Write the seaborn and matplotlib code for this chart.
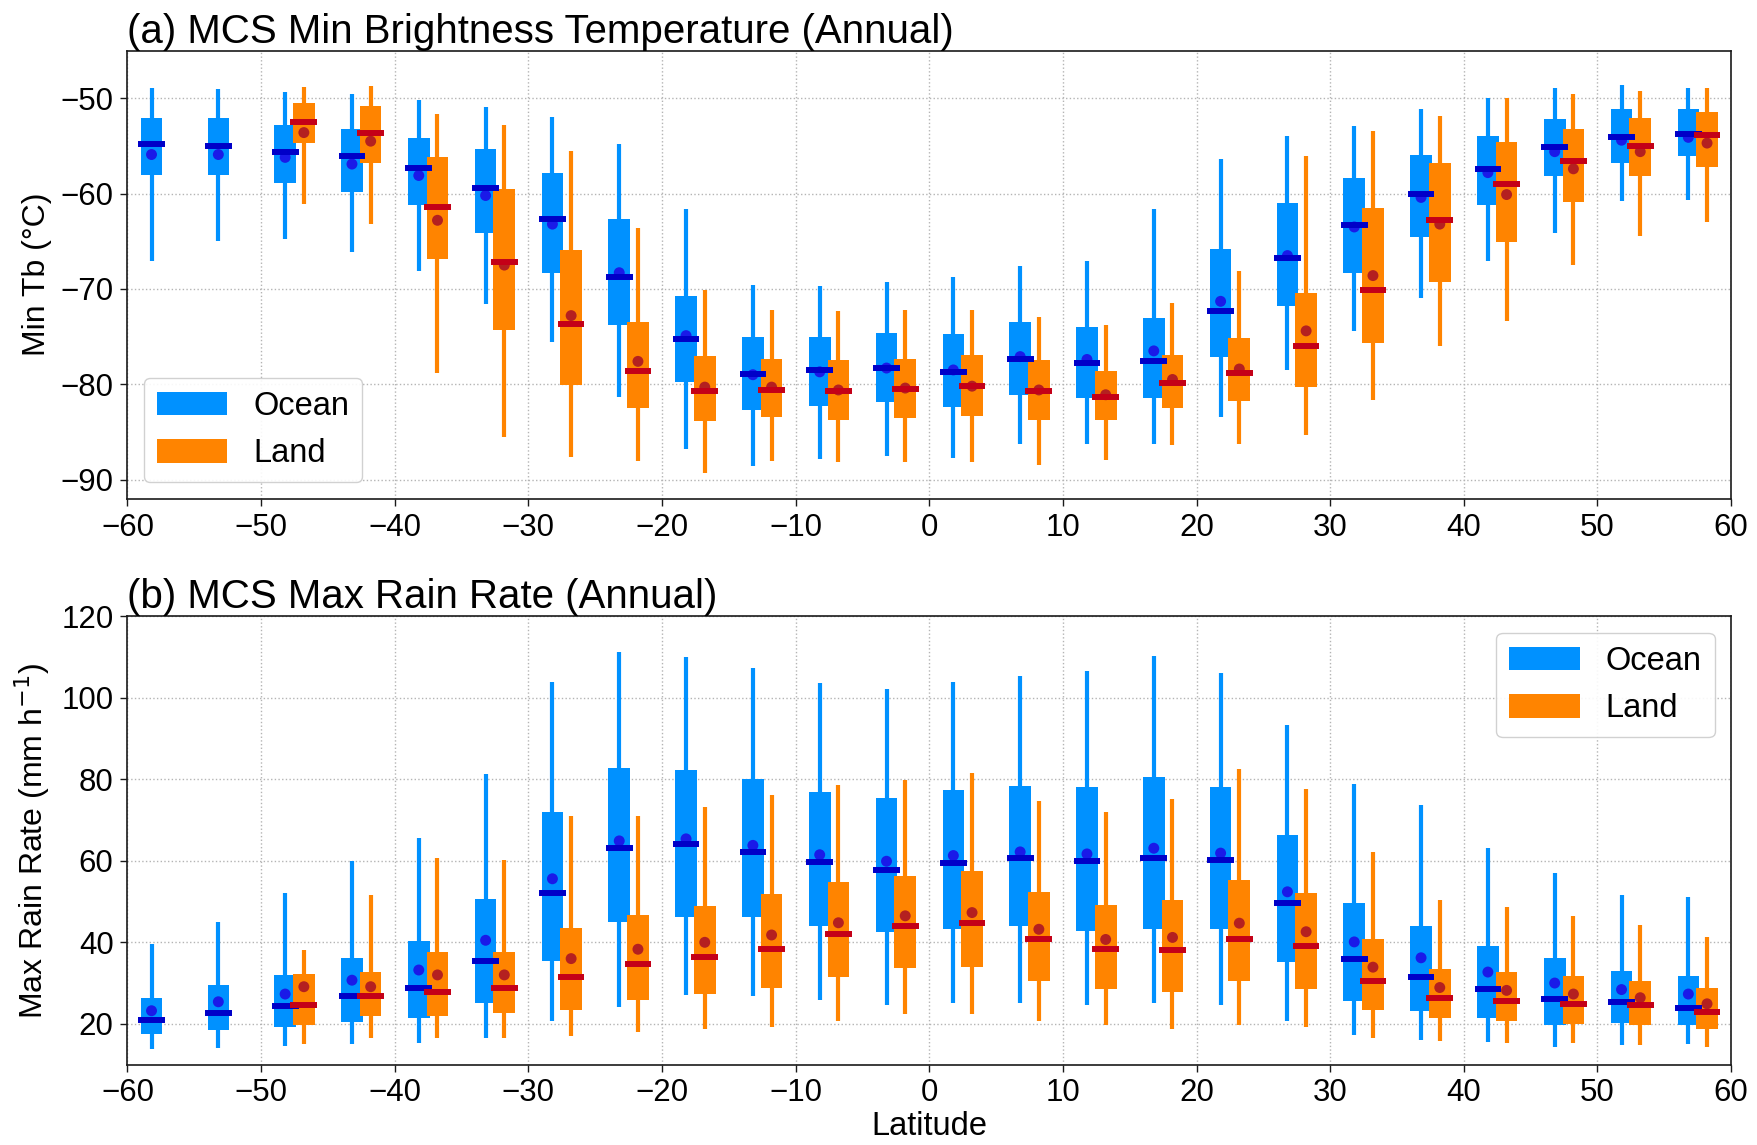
import numpy as np
import pandas as pd
import matplotlib
matplotlib.use("Agg")
import matplotlib.pyplot as plt
from matplotlib.patches import Patch
import seaborn as sns

# 5-degree latitude bins
lat_bins = np.arange(-57.5, 60.0, 5.0)
nan = np.nan

# ---- (a) MCS minimum brightness temperature (deg C) ----
tb_ocean_whishi = [-48.9, -49.0, -49.3, -49.6, -50.2, -50.9, -52.0, -54.8, -61.6, -69.6, -69.7, -69.3,
                   -68.8, -67.6, -67.1, -61.6, -56.4, -54.0, -52.9, -51.1, -50.0, -48.9, -48.6, -48.9]
tb_ocean_q3 = [-52.1, -52.1, -52.8, -53.2, -54.2, -55.3, -57.8, -62.7, -70.7, -75.0, -75.0, -74.6,
               -74.7, -73.5, -74.0, -73.1, -65.8, -61.0, -58.4, -55.9, -54.0, -52.2, -51.1, -51.1]
tb_ocean_median = [-54.8, -55.0, -55.6, -56.1, -57.3, -59.4, -62.7, -68.8, -75.3, -78.9, -78.5, -78.3,
                   -78.7, -77.4, -77.8, -77.6, -72.3, -66.8, -63.3, -60.0, -57.4, -55.1, -54.1, -53.7]
tb_ocean_mean = [-55.9, -55.9, -56.2, -56.9, -58.1, -60.2, -63.2, -68.3, -74.9, -79.0, -78.7, -78.3,
                 -78.5, -77.1, -77.4, -76.5, -71.3, -66.5, -63.5, -60.4, -57.8, -55.6, -54.4, -54.1]
tb_ocean_q1 = [-58.1, -58.1, -58.9, -59.8, -61.2, -64.1, -68.3, -73.8, -79.8, -82.7, -82.3, -81.9,
               -82.4, -81.1, -81.4, -81.4, -77.1, -71.8, -68.3, -64.6, -61.2, -58.2, -56.8, -56.1]
tb_ocean_whislo = [-67.1, -65.0, -64.8, -66.1, -68.1, -71.6, -75.6, -81.3, -86.8, -88.6, -87.8, -87.5,
                   -87.7, -86.3, -86.3, -86.3, -83.4, -78.5, -74.4, -70.9, -67.1, -64.1, -60.8, -60.7]

tb_land_whishi = [nan, nan, -48.8, -48.7, -51.7, -52.8, -55.5, -63.6, -70.1, -72.2, -72.3, -72.2,
                  -72.2, -72.9, -73.8, -71.5, -68.1, -56.1, -53.4, -51.9, -50.0, -49.6, -49.2, -48.9]
tb_land_q3 = [nan, nan, -50.5, -50.8, -56.2, -59.5, -65.9, -73.5, -77.0, -77.4, -77.5, -77.3,
              -76.9, -77.5, -78.6, -76.9, -75.2, -70.4, -61.5, -56.8, -54.6, -53.2, -52.1, -51.4]
tb_land_median = [nan, nan, -52.5, -53.6, -61.4, -67.2, -73.7, -78.6, -80.7, -80.6, -80.7, -80.5,
                  -80.2, -80.7, -81.3, -79.9, -78.8, -76.0, -70.1, -62.8, -59.0, -56.6, -55.0, -53.9]
tb_land_mean = [nan, nan, -53.6, -54.5, -62.8, -67.5, -72.8, -77.6, -80.3, -80.3, -80.6, -80.4,
                -80.2, -80.6, -81.1, -79.5, -78.4, -74.4, -68.6, -63.2, -60.1, -57.4, -55.6, -54.7]
tb_land_q1 = [nan, nan, -54.7, -56.8, -66.9, -74.3, -80.1, -82.5, -83.9, -83.4, -83.7, -83.5,
              -83.3, -83.7, -83.8, -82.5, -81.8, -80.3, -75.7, -69.3, -65.1, -60.9, -58.2, -57.2]
tb_land_whislo = [nan, nan, -61.1, -63.2, -78.8, -85.5, -87.6, -88.1, -89.3, -88.0, -88.2, -88.2,
                  -88.2, -88.5, -87.9, -86.4, -86.3, -85.3, -81.6, -76.0, -73.4, -67.5, -64.4, -63.0]

# ---- (b) MCS maximum rain rate (mm/h) ----
rr_ocean_whishi = [39.6, 45.1, 52.1, 59.9, 65.7, 81.4, 104.0, 111.3, 110.1, 107.4, 103.6, 102.2,
                   104.0, 105.4, 106.5, 110.3, 106.2, 93.4, 78.9, 73.8, 63.1, 57.0, 51.7, 51.2]
rr_ocean_q3 = [26.3, 29.5, 31.9, 36.2, 40.3, 50.6, 72.1, 82.7, 82.3, 80.0, 76.8, 75.4,
               77.4, 78.4, 78.2, 80.5, 78.2, 66.3, 49.7, 43.9, 39.1, 36.2, 33.0, 31.8]
rr_ocean_median = [20.9, 22.6, 24.3, 26.8, 28.7, 35.4, 52.1, 63.1, 64.2, 62.2, 59.7, 57.8,
                   59.4, 60.8, 59.9, 60.8, 60.1, 49.7, 36.0, 31.6, 28.6, 26.1, 25.4, 23.8]
rr_ocean_mean = [23.2, 25.4, 27.3, 30.7, 33.2, 40.5, 55.6, 64.9, 65.4, 63.8, 61.5, 59.9,
                 61.3, 62.2, 61.7, 63.1, 61.9, 52.4, 40.1, 36.2, 32.7, 30.0, 28.4, 27.3]
rr_ocean_q1 = [17.4, 18.5, 19.3, 20.4, 21.4, 25.2, 35.5, 45.1, 46.2, 46.2, 43.9, 42.6,
               43.3, 43.9, 42.8, 43.3, 43.3, 35.2, 25.7, 23.2, 21.5, 19.7, 20.2, 19.7]
rr_ocean_whislo = [13.8, 14.1, 14.5, 15.0, 15.3, 16.5, 20.6, 24.1, 27.0, 26.8, 25.8, 24.7,
                   25.2, 25.0, 24.5, 25.2, 24.5, 20.6, 17.3, 16.1, 15.6, 14.4, 14.9, 15.0]

rr_land_whishi = [nan, nan, 38.2, 51.7, 60.8, 60.1, 70.9, 70.9, 73.3, 76.2, 78.6, 79.8,
                  81.5, 74.8, 72.0, 75.2, 82.6, 77.7, 62.2, 50.5, 48.7, 46.5, 44.2, 41.4]
rr_land_q3 = [nan, nan, 32.3, 32.8, 37.7, 37.7, 43.5, 46.8, 49.0, 51.9, 54.7, 56.4,
              57.6, 52.3, 49.2, 50.5, 55.3, 52.1, 40.7, 33.4, 32.7, 31.8, 30.5, 28.7]
rr_land_median = [nan, nan, 24.6, 26.8, 27.8, 28.7, 31.4, 34.6, 36.3, 38.4, 42.1, 44.1,
                  44.8, 40.7, 38.3, 38.0, 40.9, 39.2, 30.5, 26.4, 25.7, 24.9, 24.5, 22.9]
rr_land_mean = [nan, nan, 29.1, 29.1, 32.0, 32.0, 36.0, 38.3, 40.0, 41.8, 44.8, 46.5,
                47.3, 43.2, 40.7, 41.2, 44.7, 42.6, 33.9, 28.9, 28.2, 27.3, 26.4, 24.9]
rr_land_q1 = [nan, nan, 19.7, 21.8, 21.8, 22.6, 23.4, 25.8, 27.3, 28.9, 31.6, 33.6,
              33.9, 30.5, 28.6, 27.9, 30.4, 28.6, 23.4, 21.3, 20.6, 20.0, 19.7, 18.8]
rr_land_whislo = [nan, nan, 15.0, 16.5, 16.5, 16.5, 17.0, 17.9, 18.6, 19.3, 20.6, 22.3,
                  22.3, 20.6, 19.7, 18.8, 19.7, 19.1, 16.5, 15.8, 15.4, 15.2, 14.9, 14.4]

surfaces = ["Ocean", "Land"]
box_colors = {"Ocean": "#0091ff", "Land": "#ff8400"}
median_colors = {"Ocean": "#0000c8", "Land": "#c40018"}
mean_colors = {"Ocean": "#1a1ae8", "Land": "#b42020"}
offsets = {"Ocean": -0.7, "Land": 0.7}


def build_table(ocean, land):
    frames = []
    for name, stats in (("Ocean", ocean), ("Land", land)):
        lo, q1, med, mean, q3, hi = stats
        frames.append(pd.DataFrame({
            "lat": lat_bins, "surface": name, "whislo": lo, "q1": q1,
            "median": med, "mean": mean, "q3": q3, "whishi": hi}))
    df = pd.concat(frames, ignore_index=True).dropna()
    df["pos"] = df["lat"] + df["surface"].map(offsets)
    return df


tb_df = build_table(
    (tb_ocean_whislo, tb_ocean_q1, tb_ocean_median, tb_ocean_mean, tb_ocean_q3, tb_ocean_whishi),
    (tb_land_whislo, tb_land_q1, tb_land_median, tb_land_mean, tb_land_q3, tb_land_whishi))
rr_df = build_table(
    (rr_ocean_whislo, rr_ocean_q1, rr_ocean_median, rr_ocean_mean, rr_ocean_q3, rr_ocean_whishi),
    (rr_land_whislo, rr_land_q1, rr_land_median, rr_land_mean, rr_land_q3, rr_land_whishi))

sns.set_theme(style="ticks")
plt.rcParams["font.family"] = ["Liberation Sans", "DejaVu Sans"]
plt.rcParams["axes.unicode_minus"] = True
plt.rcParams.update({
    "text.color": "black", "axes.labelcolor": "black",
    "xtick.color": "black", "ytick.color": "black",
    "xtick.labelcolor": "black", "ytick.labelcolor": "black",
})

fig = plt.figure(figsize=(17.58, 11.45), dpi=100)
ax_a = fig.add_axes([0.0725, 0.5645, 0.9122, 0.3913])
ax_b = fig.add_axes([0.0725, 0.0703, 0.9122, 0.3913])


def draw_panel(ax, df, ylim, yticks, title, ylabel, legend_loc):
    for s in surfaces:
        d = df[df["surface"] == s]
        ax.vlines(d["pos"], d["whislo"], d["whishi"], color=box_colors[s], lw=3.0, zorder=2)
        ax.bar(d["pos"], d["q3"] - d["q1"], bottom=d["q1"], width=1.62,
               color=box_colors[s], linewidth=0, zorder=2.5)
    sns.scatterplot(data=df, x="pos", y="mean", hue="surface", palette=mean_colors,
                    s=62, edgecolor="none", legend=False, ax=ax, zorder=3)
    for s in surfaces:
        d = df[df["surface"] == s]
        ax.hlines(d["median"], d["pos"] - 1.0, d["pos"] + 1.0,
                  color=median_colors[s], lw=4.3, zorder=4)

    ax.set_xlim(-60, 60)
    ax.set_xticks(np.arange(-60, 61, 10))
    ax.set_ylim(*ylim)
    ax.set_yticks(yticks)
    ax.set_axisbelow(True)
    ax.grid(True, linestyle=":", color="#b4b4b4", linewidth=1.0)
    for sp in ax.spines.values():
        sp.set_color("#1a1a1a")
        sp.set_linewidth(1.2)
    ax.tick_params(labelsize=22.5, length=5, width=1.0, color="#1a1a1a", pad=5)
    ax.set_title(title, loc="left", fontsize=29, pad=4, color="black")
    ax.set_ylabel(ylabel, fontsize=23)
    ax.yaxis.set_label_coords(-0.047, 0.5)
    ax.set_xlabel("")
    handles = [Patch(facecolor=box_colors[s], edgecolor="none", label=s) for s in surfaces]
    ax.legend(handles=handles, loc=legend_loc, fontsize=23.5, frameon=True,
              fancybox=True, edgecolor="#cccccc", framealpha=0.9,
              handlelength=2.15, handleheight=0.74)


draw_panel(ax_a, tb_df, (-92, -45), np.arange(-90, -49, 10),
           "(a) MCS Min Brightness Temperature (Annual)", "Min Tb (\u00b0C)", "lower left")
draw_panel(ax_b, rr_df, (10, 120), np.arange(20, 121, 20),
           "(b) MCS Max Rain Rate (Annual)", "Max Rain Rate (mm h$^{-1}$)", "upper right")
ax_b.set_xlabel("Latitude", fontsize=23.5, labelpad=2)

fig.savefig("out.png", dpi=100)
